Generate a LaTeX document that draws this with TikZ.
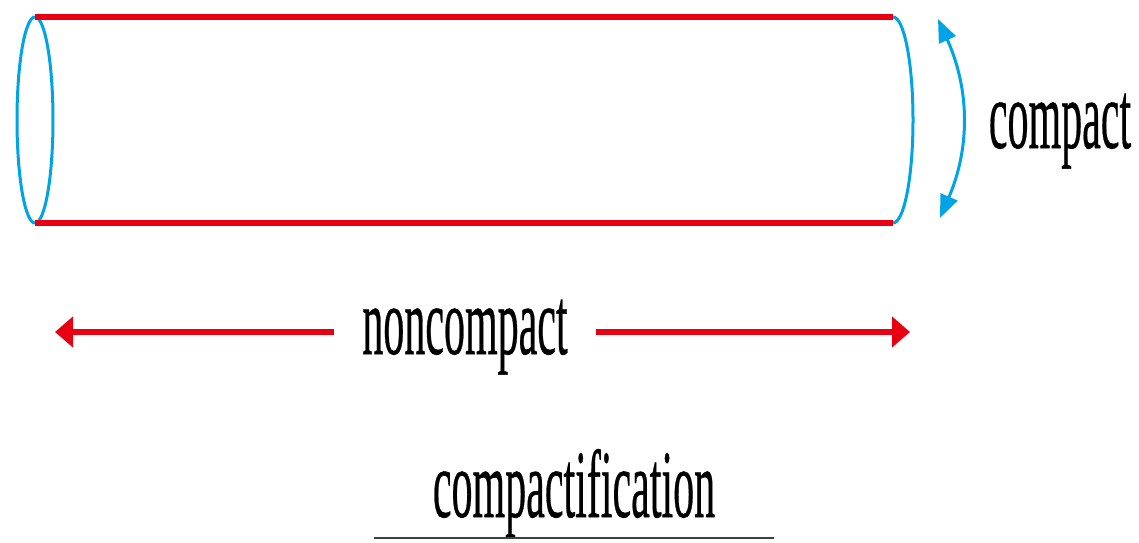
\documentclass[tikz,border=0pt]{standalone}
\usepackage{fontspec}
\setmainfont{Liberation Serif}[BoldFont={Liberation Serif}, BoldFeatures={FakeBold=0.6}]
\usetikzlibrary{arrows.meta}
\definecolor{cylred}{RGB}{232,0,18}
\definecolor{cylblue}{RGB}{0,164,230}
\newcommand{\tallword}[1]{\scalebox{1}[2.3]{\fontsize{42}{42}\selectfont\bfseries #1}}
\begin{document}
\begin{tikzpicture}[x=1pt, y=1pt,
		redline/.style={cylred, line width=5.5pt},
		blueline/.style={cylblue, line width=3pt},
		redarrow/.style={cylred, line width=5.5pt, -{Triangle[length=18pt, width=30pt]}},
		bluearrow/.style={cylblue, line width=3pt, {Triangle[length=23pt, width=18pt]}-{Triangle[length=23pt, width=18pt]}},
		word/.style={inner sep=0pt, anchor=base}]
			\useasboundingbox (0,0) rectangle (1139,542);
			% the cylinder
			\draw[blueline] (35,422) ellipse [x radius=18, y radius=103];
			\draw[blueline] (893,525) arc[start angle=90, end angle=-90, x radius=20, y radius=103];
			\draw[redline] (35,525) -- (893,525)
			(35,319) -- (893,319);
			% compact direction
			\coordinate (ctop) at (938,523);
			\coordinate (cbot) at (940,324);
			\draw[bluearrow] (ctop) .. controls (970,452) and (970,394) .. (cbot);
			\node[word] (compact) at (1060,394) {\tallword{compact}};
			% noncompact direction
			\node[word, inner xsep=28pt] (noncompact) at (465,188) {\tallword{noncompact}};
			\coordinate (ncleft) at (55,210);
			\coordinate (ncright) at (910,210);
			\draw[redarrow] (noncompact.west |- ncleft) -- (ncleft);
			\draw[redarrow] (noncompact.east |- ncright) -- (ncright);
			% title
			\node[word, minimum width=400pt] (compactification) at (574,25) {\tallword{compactification}};
			\draw[black!75, line width=1.5pt] (compactification.south west) -- (compactification.south east);
			\end{tikzpicture}
\end{document}
